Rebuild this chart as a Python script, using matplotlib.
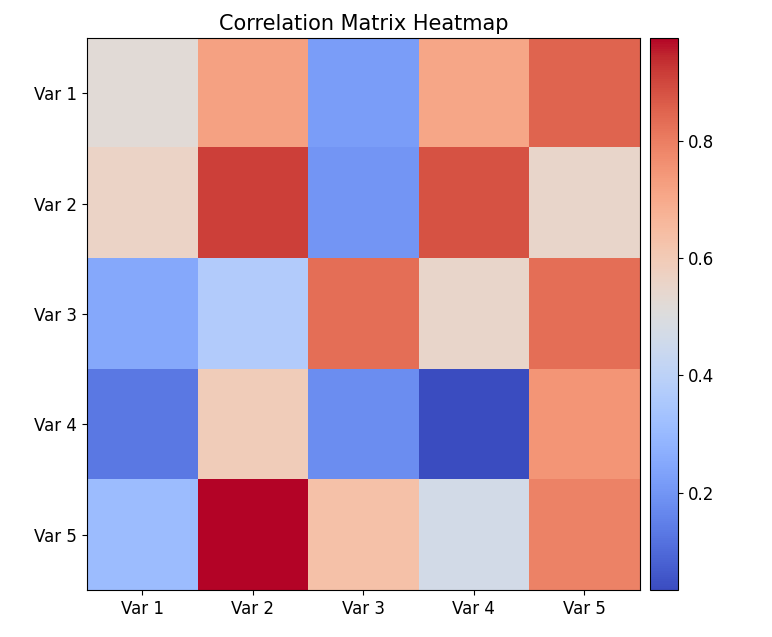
import numpy as np
import matplotlib
matplotlib.use("Agg")
import matplotlib.pyplot as plt

labels = ["Var 1", "Var 2", "Var 3", "Var 4", "Var 5"]

# values
row1 = [0.52, 0.72, 0.22, 0.71, 0.85]
row2 = [0.56, 0.91, 0.20, 0.88, 0.55]
row3 = [0.25, 0.37, 0.83, 0.55, 0.83]
row4 = [0.13, 0.59, 0.18, 0.034, 0.75]
row5 = [0.31, 0.975, 0.63, 0.47, 0.79]

data = np.array([row1, row2, row3, row4, row5])

plt.rcParams["font.size"] = 12

fig = plt.figure(figsize=(7.72, 6.37), dpi=100)
ax = fig.add_axes([0.1127, 0.0738, 0.716, 0.8666])
cax = fig.add_axes([0.842, 0.0738, 0.036, 0.8666])

im = ax.imshow(data, cmap="coolwarm", interpolation="nearest", aspect="auto")
fig.colorbar(im, cax=cax)

ax.set_xticks(range(len(labels)))
ax.set_xticklabels(labels)
ax.set_yticks(range(len(labels)))
ax.set_yticklabels(labels)
ax.set_title("Correlation Matrix Heatmap", fontsize=15)

plt.savefig("out.png")
